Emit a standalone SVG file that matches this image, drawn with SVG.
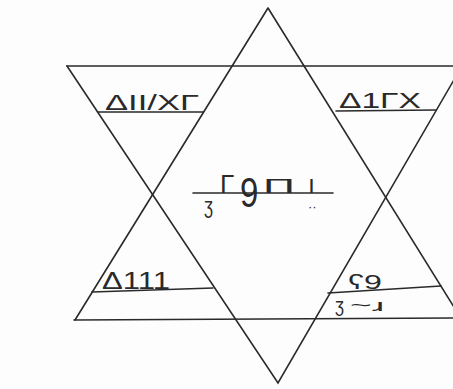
<svg xmlns="http://www.w3.org/2000/svg" width="453" height="389" viewBox="0 0 453 389">
<style>
.ln{stroke:#2a2a2a;stroke-width:1.6;fill:none;stroke-linecap:round}
.tx{font-family:"Liberation Sans","DejaVu Sans",sans-serif;fill:#2a2a2a}
</style>
<rect width="453" height="389" fill="#fdfdfd"/>
<g id="connectors">
<path class="ln" d="M268,8 L75,320 M268,8 L462,320"/>
<path class="ln" d="M74,320 L453,318"/>
<path class="ln" d="M67,66 L453,66"/>
<path class="ln" d="M67,66 L278,383 L462,66"/>
<path class="ln" d="M98,112 L203,112"/>
<path class="ln" d="M336,111 L436,110"/>
<path class="ln" d="M92,292 L213,288"/>
<path class="ln" d="M328,293 L441,286"/>
<path class="ln" d="M193,193 L333,193"/>
</g>
<g id="top-left">
<text class="tx" x="105" y="110" font-size="22" textLength="94" lengthAdjust="spacingAndGlyphs">ΔII/XΓ</text>
</g>
<g id="top-right">
<text class="tx" x="339" y="108" font-size="22" textLength="82" lengthAdjust="spacingAndGlyphs">Δ1ΓX</text>
</g>
<g id="center">
<text class="tx" x="204" y="213" font-size="22" textLength="9" lengthAdjust="spacingAndGlyphs">ʒ</text>
<text class="tx" x="220" y="193" font-size="26">Γ</text>
<text class="tx" transform="translate(240,207) scale(1.5,1.9)" font-size="22">9</text>
<text class="tx" x="263" y="193" font-size="20" textLength="32" lengthAdjust="spacingAndGlyphs">Π</text>
<text class="tx" x="308" y="193" font-size="25">ı</text>
<text class="tx" x="308" y="211" font-size="13">··</text>
</g>
<g id="bottom-left">
<text class="tx" x="102" y="289" font-size="24" textLength="68" lengthAdjust="spacingAndGlyphs">Δ111</text>
</g>
<g id="bottom-right">
<text class="tx" x="348" y="289" font-size="20" textLength="34" lengthAdjust="spacingAndGlyphs">ʕ9</text>
<text class="tx" x="335" y="312" font-size="20" textLength="9" lengthAdjust="spacingAndGlyphs">ʒ</text>
<text class="tx" x="350" y="311" font-size="16" textLength="34" lengthAdjust="spacingAndGlyphs">~ɹ</text>
</g>
</svg>
